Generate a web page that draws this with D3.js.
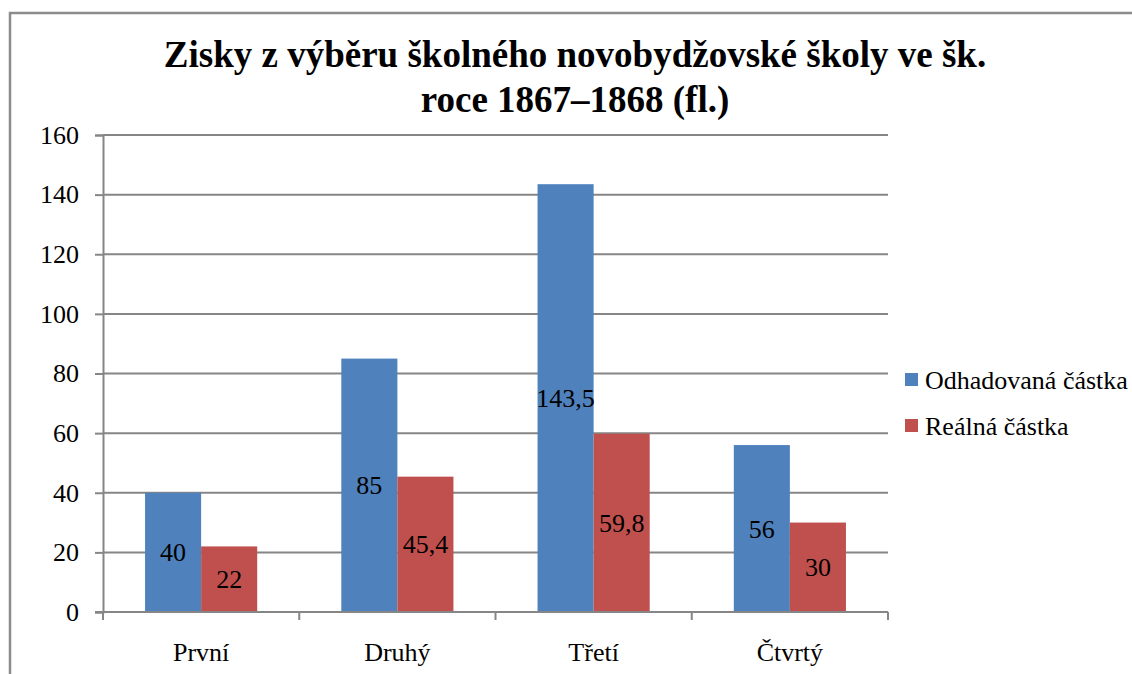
<!DOCTYPE html>
<html lang="cs">
<head>
    <meta charset="UTF-8">
    <title>Zisky z výběru školného</title>
    <script src="https://cdn.jsdelivr.net/npm/d3@7"></script>
    <style>
        body{
            margin: 0;
            background: #fff;
        }
    </style>
</head>
<body>
<svg id="chart" width="1132" height="674"></svg>

<script>
    // data
    let categories = ["První", "Druhý", "Třetí", "Čtvrtý"];
    let seriesNames = ["Odhadovaná částka", "Reálná částka"];
    let odhadovana = [40, 85, 143.5, 56];
    let realna = [22, 45.4, 59.8, 30];
    let yTicks = [0, 20, 40, 60, 80, 100, 120, 140, 160];
    let titleLines = ["Zisky z výběru školného novobydžovské školy ve šk.", "roce 1867–1868 (fl.)"];

    let colors = ["#4F81BD", "#C0504D"];
    let gridColor = "#868686";
    let serif = "Liberation Serif";

    let svg = d3.select("#chart");

    // outer chart border (runs off the right and bottom of the picture)
    svg.append("rect")
        .attr("x", 10)
        .attr("y", 13)
        .attr("width", 1200)
        .attr("height", 700)
        .attr("fill", "#fff")
        .attr("stroke", "#8c8c8c")
        .attr("stroke-width", 2.5);

    // title
    svg.append("text")
        .style("font-family", serif)
        .attr("text-anchor", "middle")
        .attr("font-weight", "bold")
        .attr("font-size", 37)
        .selectAll("tspan")
        .data(titleLines)
        .join("tspan")
        .attr("x", 575)
        .attr("y", (d, i) => 67 + i * 45)
        .text(d => d);

    let plotLeft = 103, plotRight = 888, plotTop = 135, plotBottom = 612;

    let x0 = d3.scaleBand()
        .domain(categories)
        .range([plotLeft, plotRight])
        .paddingInner(0)
        .paddingOuter(0);

    let x1 = d3.scaleBand()
        .domain(seriesNames)
        .range([0, x0.bandwidth()])
        .paddingInner(0)
        .paddingOuter(0.75);

    let y = d3.scaleLinear()
        .domain([0, 160])
        .range([plotBottom, plotTop]);

    // gridlines
    svg.append("g")
        .selectAll("line")
        .data(yTicks.filter(d => d > 0))
        .join("line")
        .attr("x1", plotLeft)
        .attr("x2", plotRight)
        .attr("y1", d => y(d))
        .attr("y2", d => y(d))
        .attr("stroke", gridColor)
        .attr("stroke-width", 2);

    // y axis
    let yAxis = svg.append("g")
        .attr("transform", `translate(${plotLeft},0)`)
        .call(d3.axisLeft(y).tickValues(yTicks).tickSize(8).tickPadding(16));
    yAxis.attr("font-family", serif).attr("font-size", 26);
    yAxis.select(".domain").attr("stroke", gridColor).attr("stroke-width", 2);
    yAxis.selectAll(".tick line").attr("stroke", gridColor).attr("stroke-width", 2);
    yAxis.selectAll(".tick text")
        .style("font-family", serif)
        .attr("fill", "#000");

    // bars
    let rows = categories.map((c, i) => ({cat: c, values: [odhadovana[i], realna[i]]}));

    let groups = svg.append("g")
        .selectAll("g")
        .data(rows)
        .join("g")
        .attr("transform", d => `translate(${x0(d.cat)},0)`);

    groups.selectAll("rect")
        .data(d => d.values.map((v, j) => ({name: seriesNames[j], value: v, j: j})))
        .join("rect")
        .attr("x", d => x1(d.name))
        .attr("width", x1.bandwidth())
        .attr("y", d => y(d.value))
        .attr("height", d => y(0) - y(d.value))
        .attr("fill", d => colors[d.j]);

    // value labels
    groups.selectAll("text")
        .data(d => d.values.map((v, j) => ({name: seriesNames[j], value: v})))
        .join("text")
        .style("font-family", serif)
        .attr("x", d => x1(d.name) + x1.bandwidth() / 2)
        .attr("y", d => (y(d.value) + y(0)) / 2)
        .attr("dy", "0.35em")
        .attr("text-anchor", "middle")
        .attr("font-size", 26)
        .text(d => String(d.value).replace(".", ","));

    // x axis
    let xAxis = svg.append("g");
    xAxis.append("line")
        .attr("x1", plotLeft - 8)
        .attr("x2", plotRight)
        .attr("y1", plotBottom)
        .attr("y2", plotBottom)
        .attr("stroke", gridColor)
        .attr("stroke-width", 2);
    xAxis.selectAll(".xtick")
        .data(categories.map(c => x0(c)).concat([plotRight]))
        .join("line")
        .attr("class", "xtick")
        .attr("x1", d => d)
        .attr("x2", d => d)
        .attr("y1", plotBottom)
        .attr("y2", plotBottom + 8)
        .attr("stroke", gridColor)
        .attr("stroke-width", 2);
    xAxis.selectAll("text")
        .data(categories)
        .join("text")
        .style("font-family", serif)
        .attr("x", d => x0(d) + x0.bandwidth() / 2)
        .attr("y", 661)
        .attr("text-anchor", "middle")
        .attr("font-size", 26)
        .text(d => d);

    // legend
    let legend = svg.append("g")
        .selectAll("g")
        .data(seriesNames)
        .join("g")
        .attr("transform", (d, i) => `translate(905,${373 + i * 46})`);
    legend.append("rect")
        .attr("width", 13)
        .attr("height", 13)
        .attr("fill", (d, i) => colors[i]);
    legend.append("text")
        .style("font-family", serif)
        .attr("x", 20)
        .attr("y", 16)
        .attr("font-size", 26)
        .text(d => d);
</script>
</body>
</html>
